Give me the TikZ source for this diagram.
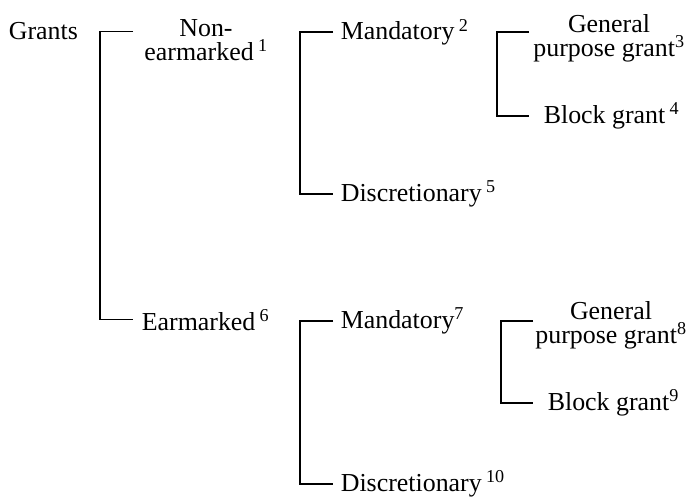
\documentclass[tikz,border=0pt]{standalone}
\usepackage{fontspec}
\setmainfont{Liberation Serif}
\tikzset{
  lbl/.style={inner sep=0pt, anchor=base west},
  lbltwo/.style={inner sep=0pt, align=center, anchor=north}
}
\begin{document}
\begin{tikzpicture}[x=1bp, y=-1bp, font=\fontsize{26}{24}\selectfont, line width=1.6bp]
  \useasboundingbox (0,0) rectangle (695,498);
  % first level
  \node [lbl] (grants) at (8, 40) {Grants};
  \node [lbltwo] (nonear) at (206, 18.5) {Non-\\earmarked\,\textsuperscript{1}};
  \node [lbl] (earm) at (141, 330) {Earmarked\,\textsuperscript{6}};
  % second level
  \node [lbl] (mand1) at (340, 40) {Mandatory\,\textsuperscript{2}};
  \node [lbl] (disc1) at (340, 201.5) {Discretionary\,\textsuperscript{5}};
  \node [lbl] (mand2) at (340, 328.5) {Mandatory\textsuperscript{7}};
  \node [lbl] (disc2) at (340, 491.5) {Discretionary\,\textsuperscript{10}};
  % third level
  \node [lbltwo] (gen1) at (609, 13.5) {General\\purpose grant\textsuperscript{3}};
  \node [lbl] (block1) at (543, 123.5) {Block grant\,\textsuperscript{4}};
  \node [lbltwo] (gen2) at (611, 300.5) {General\\purpose grant\textsuperscript{8}};
  \node [lbl] (block2) at (547, 410.5) {Block grant\textsuperscript{9}};
  % brackets
  \draw ([xshift=-8bp]earm.west |- grants.east) -| ([xshift=-41bp]earm.west)
        -- ([xshift=-8bp]earm.west);
  \draw ([xshift=-7bp]mand1.west) -| ([xshift=-40bp]disc1.west)
        -- ([xshift=-7bp]disc1.west);
  \draw ([xshift=-14bp]block1.west |- mand1.west) -| ([xshift=-46bp]block1.west)
        -- ([xshift=-14bp]block1.west);
  \draw ([xshift=-7bp]mand2.west) -| ([xshift=-40bp]disc2.west)
        -- ([xshift=-7bp]disc2.west);
  \draw ([xshift=-14bp]block2.west |- mand2.west) -| ([xshift=-46bp]block2.west)
        -- ([xshift=-14bp]block2.west);
\end{tikzpicture}
\end{document}
